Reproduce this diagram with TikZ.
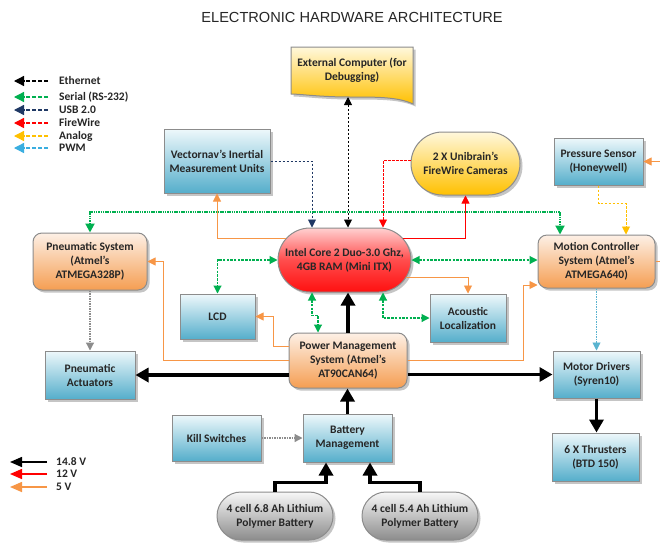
\documentclass[tikz,border=0pt]{standalone}
\usepackage{fontspec}
\setmainfont{Carlito}[BoldFont={Carlito Bold}]
\newfontfamily\titlefont{Liberation Sans}
\usetikzlibrary{arrows.meta,shadows,shapes.misc,calc}
\definecolor{cSerial}{HTML}{00B050}
\definecolor{cUSB}{HTML}{1F3864}
\definecolor{cFW}{HTML}{FF0000}
\definecolor{cAnalog}{HTML}{FFC000}
\definecolor{cPWM}{HTML}{3AAEE0}
\definecolor{cPWMline}{HTML}{5AB4D0}
\definecolor{cFive}{HTML}{F79646}
\definecolor{cGrey}{HTML}{8C8C8C}
\definecolor{cTxt}{HTML}{262626}
\definecolor{blueTop}{HTML}{EEF8FB}
\definecolor{blueBot}{HTML}{55AECB}
\definecolor{orTop}{HTML}{FDF0E6}
\definecolor{orBot}{HTML}{F59E52}
\definecolor{yeTop}{HTML}{FFF8DC}
\definecolor{yeBot}{HTML}{FFC000}
\definecolor{reTop}{HTML}{FFD0D0}
\definecolor{reBot}{HTML}{FF1010}
\definecolor{grTop}{HTML}{F7F7F7}
\definecolor{grBot}{HTML}{8C8C8C}
\tikzset{
  base/.style={draw=black!45, line width=1pt, font=\bfseries\fontsize{11.5}{14}\selectfont,
    text=cTxt, align=center, inner sep=2pt,
    drop shadow={opacity=0.45, shadow xshift=2.5pt, shadow yshift=-2.5pt}},
  bluebox/.style={base, rectangle, top color=blueTop, bottom color=blueBot},
  orangebox/.style={base, rectangle, rounded corners=9pt, top color=orTop, bottom color=orBot},
  yellowpill/.style={base, rounded rectangle, top color=yeTop, bottom color=yeBot},
  redpill/.style={base, rounded rectangle, top color=reTop, bottom color=reBot, middle color=red!70!white},
  greypill/.style={base, rounded rectangle, top color=grTop, bottom color=grBot},
  thinl/.style={line width=0.9pt},
  eth/.style={thinl, black, dash pattern=on 2.5pt off 1.5pt},
  serial/.style={line width=1.1pt, cSerial, dash pattern=on 2.5pt off 1.2pt},
  serialtop/.style={line width=2pt, cSerial!80!white, dash pattern=on 1.5pt off 0.8pt},
  usb/.style={thinl, cUSB, dash pattern=on 2.5pt off 1.5pt},
  fw/.style={thinl, cFW, dash pattern=on 2.5pt off 1.5pt},
  analog/.style={thinl, cAnalog, dash pattern=on 2.5pt off 1.5pt},
  pwm/.style={thinl, cPWMline, dash pattern=on 1.5pt off 1pt},
  greydot/.style={line width=1.2pt, cGrey, dash pattern=on 1.5pt off 1pt},
  vfive/.style={thinl, cFive},
  vtwelve/.style={thinl, cFW},
  power/.style={line width=3.5pt, black, -{Triangle[length=13pt,width=14pt]}},
  legtxt/.style={font=\bfseries\fontsize{11.5}{13}\selectfont, text=cTxt, anchor=west, inner sep=0pt},
  legdash/.style={line width=1.3pt, dash pattern=on 4pt off 2pt, -{Triangle[length=10pt,width=10pt]}},
  legsolid/.style={line width=1.5pt, -{Triangle[length=12pt,width=10pt]}},
}
\begin{document}
\begin{tikzpicture}[x=1pt,y=-1pt,>={Triangle[length=8pt,width=8pt]}]
\useasboundingbox (0,0) rectangle (660,544);
\clip (0,0) rectangle (660,544);
\fill[white] (0,0) rectangle (660,544);

% title
\node[font=\titlefont\fontsize{14.6}{16}\selectfont, text=cTxt] (title) at (352,17) {ELECTRONIC HARDWARE ARCHITECTURE};

% legend top
\foreach \y/\c/\t [count=\i] in {81/black/Ethernet, 97/cSerial/Serial (RS-232), 110/cUSB/USB 2.0, 123/cFW/FireWire, 136/cAnalog/Analog, 148/cPWM/PWM}{
  \coordinate (la\i) at (48,\y);
  \coordinate (lb\i) at (14,\y);
  \draw[legdash, \c] (la\i) -- (lb\i);
  \node[legtxt] (lt\i) at (59,\y) {\t};
}
% legend bottom
\foreach \y/\c/\t [count=\i] in {462/black/14.8 V, 474/cFW/12 V, 487/cFive/5 V}{
  \coordinate (pa\i) at (47,\y);
  \coordinate (pb\i) at (10,\y);
  \draw[legsolid, \c] (pa\i) -- (pb\i);
  \node[legtxt] (pt\i) at (56,\y) {\t};
}

% external computer (document shape)
\path[draw=black!45, line width=1pt, top color=yeTop, bottom color=yeBot,
      drop shadow={opacity=0.45, shadow xshift=2.5pt, shadow yshift=-2.5pt}]
  (291,47) -- (413,47) -- (413,104) .. controls (398,97) and (378,97) .. (350,97)
  .. controls (320,97) and (300,94) .. (291,94) -- cycle;
\node[font=\bfseries\fontsize{11.5}{14}\selectfont, text=cTxt, align=center] (ext) at (352,70) {External Computer (for\\Debugging)};
\coordinate (extb) at (348,97);

% nodes
\node[bluebox, minimum width=106pt, minimum height=64pt] (vec) at (217,161) {Vectornav's Inertial\\Measurement Units};
\node[yellowpill, minimum width=113pt, minimum height=63pt] (cam) at (465.5,163.5) {2 X Unibrain's\\FireWire Cameras};
\node[bluebox, minimum width=89pt, minimum height=47pt] (press) at (598.5,161.5) {Pressure Sensor\\(Honeywell)};
\node[redpill, minimum width=137pt, minimum height=64pt] (intel) at (344.5,260) {Intel Core 2 Duo-3.0 Ghz,\\4GB RAM (Mini ITX)};
\node[orangebox, minimum width=114pt, minimum height=57pt] (pneu) at (90,261.5) {Pneumatic System\\(Atmel's\\ATMEGA328P)};
\node[orangebox, minimum width=117pt, minimum height=53pt] (motion) at (596.5,261.5) {Motion Controller\\System (Atmel's\\ATMEGA640)};
\node[bluebox, minimum width=75pt, minimum height=45pt] (lcd) at (217.5,316.5) {LCD};
\node[bluebox, minimum width=76pt, minimum height=48pt] (acou) at (468,318) {Acoustic\\Localization};
\node[orangebox, minimum width=118pt, minimum height=55pt] (pms) at (348,360.5) {Power Management\\System (Atmel's\\AT90CAN64)};
\node[bluebox, minimum width=90pt, minimum height=48pt] (act) at (90,375) {Pneumatic\\Actuators};
\node[bluebox, minimum width=87pt, minimum height=47pt] (motor) at (596.5,374.5) {Motor Drivers\\(Syren10)};
\node[bluebox, minimum width=89pt, minimum height=46pt] (kill) at (216.5,438) {Kill Switches};
\node[bluebox, minimum width=89pt, minimum height=48pt] (batt) at (347.5,438) {Battery\\Management};
\node[greypill, minimum width=120pt, minimum height=48pt] (bone) at (275,516) {4 cell 6.8 Ah Lithium\\Polymer Battery};
\node[greypill, minimum width=120pt, minimum height=48pt] (btwo) at (420,516) {4 cell 5.4 Ah Lithium\\Polymer Battery};
\node[bluebox, minimum width=87pt, minimum height=48pt] (thr) at (595.5,457) {6 X Thrusters\\(BTD 150)};

% data connectors
\draw[eth, <->] (extb) -- (intel.north -| extb);
\draw[usb, ->] (vec.east) -| (intel.north -| 312,0);
\draw[fw, ->] ([yshift=3pt]cam.west) -| (intel.north -| 383,0);
\draw[serialtop, <->, >={Triangle[length=9pt,width=9pt]}, cSerial] (pneu.north) -- ++(0,-21) -| (motion.north -| 560,0);
\draw[serial, <->] (intel.west) -| (lcd.north);
\draw[serial, <->] (intel.east) -- (intel.east -| motion.west);
\draw[serial, <->] (intel.south -| 312,0) -- ++(0,23) -| (pms.north -| 318,0);
\draw[serial, <->] (intel.south -| 383,0) |- (acou.west);
\draw[analog, ->] (press.south) -- ++(0,18) -| (motion.north -| 626,0);
\draw[pwm, ->] (motion.south) -- (motion.south |- motor.north);
\draw[greydot, ->] (pneu.south) -- (act.north);
\draw[greydot, ->] (kill.east) -- (batt.west);

% power connectors
\draw[vtwelve, ->] (intel.20) -| (cam.south);
\draw[vfive, ->] (intel.160) -| (vec.south);
\draw[vfive, ->] (intel.-16) -| (acou.north);
\draw[vfive, ->] (pms.west |- 0,346) -- ++(-15,0) |- (lcd.east);
\draw[vfive, ->] (pms.west |- 0,360) -- (163,360) |- (pneu.east);
\draw[vfive, ->] (pms.east |- 0,360) -- (523,360) |- (motion.west |- 0,285);
\draw[vfive, ->] (motion.east) -- ++(15,0) |- (press.east);
\draw[power] (pms.north) -- (pms.north |- intel.south);
\draw[power] (pms.west |- act.east) -- (act.east);
\draw[power] (pms.east |- motor.west) -- (motor.west);
\draw[power] (batt.north) -- (batt.north |- pms.south);
\draw[power] (bone.north) -- ++(0,-9) -| (batt.south -| 326,0);
\draw[power] (btwo.north) -- ++(0,-9) -| (batt.south -| 370,0);
\draw[power] (motor.south) -- (motor.south |- thr.north);
\end{tikzpicture}
\end{document}
